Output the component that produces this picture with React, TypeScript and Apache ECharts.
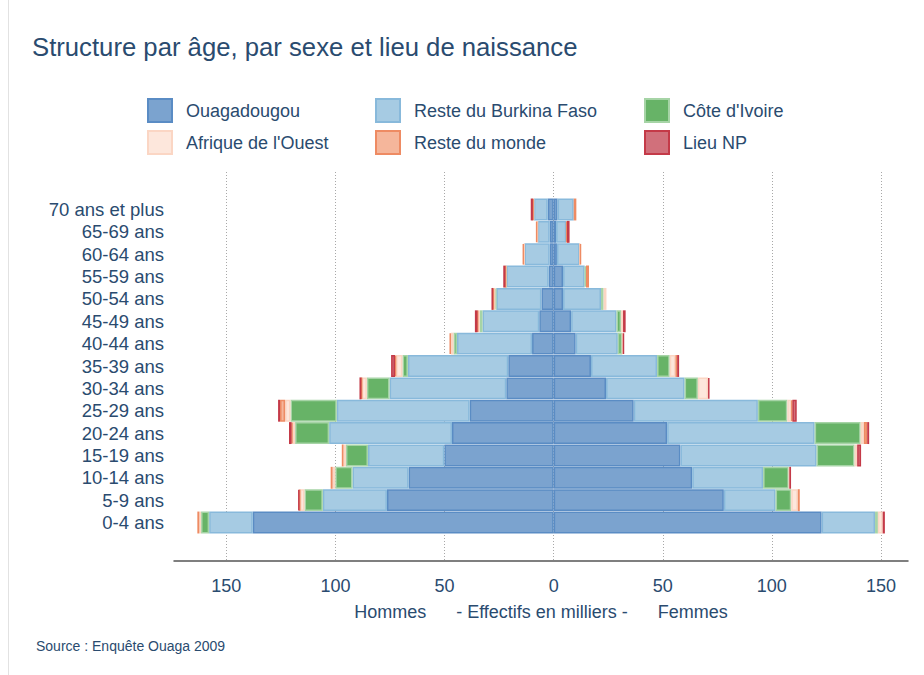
import React, { useEffect, useRef } from 'react';
import * as echarts from 'echarts';

// Age groups, bottom to top
const ageGroups = [
  '0-4 ans', '5-9 ans', '10-14 ans', '15-19 ans', '20-24 ans', '25-29 ans', '30-34 ans',
  '35-39 ans', '40-44 ans', '45-49 ans', '50-54 ans', '55-59 ans', '60-64 ans', '65-69 ans',
  '70 ans et plus',
];

const placeNames = [
  'Ouagadougou', 'Reste du Burkina Faso', "Côte d'Ivoire",
  "Afrique de l'Ouest", 'Reste du monde', 'Lieu NP',
];

// Hommes (thousands), bottom to top
const hommesOuaga = [137.9, 76.4, 66.5, 50.1, 46.6, 38.5, 21.7, 20.8, 9.9, 6.6, 5.6, 2.3, 1.8, 1.8, 2.7];
const hommesBurkina = [20.0, 29.4, 25.7, 35.0, 56.3, 60.9, 53.5, 46.0, 34.4, 26.0, 20.7, 19.4, 11.6, 5.5, 6.4];
const hommesCI = [3.7, 8.4, 7.9, 10.1, 15.6, 21.2, 10.4, 2.5, 1.6, 1.2, 0.4, 0.1, 0, 0, 0];
const hommesAO = [0.8, 2.0, 1.2, 1.1, 1.2, 2.5, 2.3, 2.9, 1.2, 0.9, 0.8, 0.2, 0.2, 0.2, 0.2];
const hommesMonde = [0.9, 0.3, 0.9, 0.8, 0.4, 2.3, 0.2, 0.5, 0.6, 0.2, 0.2, 0.1, 0.6, 0.6, 0.2];
const hommesNP = [0, 0.6, 0, 0, 1.2, 0.9, 0.9, 1.8, 0, 1.2, 0.8, 1.0, 0, 0, 1.0];

// Femmes (thousands), bottom to top
const femmesOuaga = [122.8, 78.0, 63.5, 58.1, 52.0, 36.7, 24.0, 17.1, 10.1, 8.0, 4.3, 4.3, 1.5, 1.1, 1.8];
const femmesBurkina = [24.5, 23.7, 32.5, 62.4, 67.6, 56.9, 36.0, 30.3, 19.3, 20.8, 17.4, 9.9, 10.4, 4.7, 7.4];
const femmesCI = [1.3, 7.2, 11.8, 17.4, 21.1, 13.5, 6.1, 5.8, 2.0, 2.1, 1.2, 0.6, 0, 0, 0];
const femmesAO = [2.2, 3.0, 0.2, 1.2, 1.5, 1.8, 4.7, 2.6, 0.3, 0.9, 1.3, 0, 0.1, 0, 0];
const femmesMonde = [0, 0.9, 0, 0, 1.5, 0.5, 0, 0.8, 0, 0, 0, 1.4, 0.6, 0.3, 1.2];
const femmesNP = [1.0, 0, 0.8, 1.8, 0.9, 2.0, 0.6, 0.9, 0.6, 1.2, 0, 0, 0, 1.2, 0];

const hommes = [hommesOuaga, hommesBurkina, hommesCI, hommesAO, hommesMonde, hommesNP];
const femmes = [femmesOuaga, femmesBurkina, femmesCI, femmesAO, femmesMonde, femmesNP];

const fills = ['#7ba3cf', '#a6cbe3', '#67b367', '#fde7dc', '#f5b69b', '#d1707b'];
const borders = ['#5a8cc4', '#88b9db', '#a6d4a6', '#fbd6c4', '#ee8b63', '#c43a48'];

const TEXT = '#2a4b6f';
const FONT = '"Liberation Sans", Arial, Helvetica, sans-serif';
const SP = '\u00a0\u00a0\u00a0\u00a0\u00a0\u00a0';

export default function App() {
  const ref = useRef<HTMLDivElement>(null);

  useEffect(() => {
    if (!ref.current) return;
    const chart = echarts.init(ref.current, null, { renderer: 'svg' });

    const series: any[] = [];
    placeNames.forEach((name, i) => {
      const style = { color: fills[i], borderColor: borders[i], borderWidth: 1.5 };
      series.push({
        name,
        type: 'bar',
        stack: 'pyramide',
        xAxisIndex: 1,
        yAxisIndex: 1,
        barCategoryGap: '2%',
        itemStyle: style,
        emphasis: { disabled: true },
        data: hommes[i].map((v) => (v === 0 ? null : -v)),
      });
      series.push({
        name,
        type: 'bar',
        stack: 'pyramide',
        xAxisIndex: 1,
        yAxisIndex: 1,
        barCategoryGap: '2%',
        itemStyle: style,
        emphasis: { disabled: true },
        data: femmes[i].map((v) => (v === 0 ? null : v)),
      });
    });

    const legendBase = {
      orient: 'vertical',
      top: 93,
      itemWidth: 24,
      itemHeight: 23,
      itemGap: 7,
      icon: 'rect',
      selectedMode: false,
      textStyle: { fontSize: 18, color: TEXT, fontFamily: FONT, padding: [0, 0, 0, 9] },
    };

    const option: any = {
      animation: false,
      backgroundColor: '#ffffff',
      textStyle: { fontFamily: FONT },
      title: {
        text: 'Structure par âge, par sexe et lieu de naissance',
        left: 27,
        top: 29,
        textStyle: { fontSize: 25.7, fontWeight: 'normal', color: TEXT, fontFamily: FONT },
      },
      legend: [
        { ...legendBase, left: 142, data: ['Ouagadougou', "Afrique de l'Ouest"] },
        { ...legendBase, left: 370, data: ['Reste du Burkina Faso', 'Reste du monde'] },
        { ...legendBase, left: 639, data: ["Côte d'Ivoire", 'Lieu NP'] },
      ],
      grid: [
        { left: 174, right: 16, top: 172, bottom: 114 },
        { left: 174, right: 16, top: 198.3, bottom: 141.3 },
      ],
      xAxis: [
        {
          gridIndex: 0,
          type: 'value',
          min: -174,
          max: 162.4,
          minInterval: 50,
          maxInterval: 50,
          axisLine: { show: true, lineStyle: { color: '#555555', width: 1.5 } },
          axisTick: { show: false },
          splitLine: {
            show: true,
            showMinLine: false,
            showMaxLine: false,
            lineStyle: { color: '#a8a8a8', width: 1, type: [1, 2] },
          },
          axisLabel: {
            fontSize: 18,
            color: TEXT,
            fontFamily: FONT,
            margin: 16,
            formatter: (v: number) => (Math.abs(v % 50) < 1e-6 ? String(Math.abs(v)) : ''),
          },
          name: 'Hommes' + SP + '- Effectifs en milliers -' + SP + 'Femmes',
          nameLocation: 'middle',
          nameGap: 42,
          nameTextStyle: { fontSize: 18, color: TEXT, fontFamily: FONT },
        },
        {
          gridIndex: 1,
          type: 'value',
          min: -174,
          max: 162.4,
          show: false,
          splitLine: { show: false },
        },
      ],
      yAxis: [
        { gridIndex: 0, type: 'value', min: 0, max: 1, show: false, splitLine: { show: false } },
        {
          gridIndex: 1,
          type: 'category',
          data: ageGroups,
          axisLine: { show: false, onZero: false },
          axisTick: { show: false },
          splitLine: { show: false },
          axisLabel: {
            interval: 0,
            fontSize: 18.5,
            color: TEXT,
            fontFamily: FONT,
            margin: 10,
            padding: [8, 0, 0, 0],
          },
        },
      ],
      graphic: [
        {
          type: 'line',
          shape: { x1: 8.5, y1: 0, x2: 8.5, y2: 675 },
          style: { stroke: '#e2e2e2', lineWidth: 1 },
          silent: true,
        },
        {
          type: 'text',
          left: 36,
          top: 639,
          style: { text: 'Source : Enquête Ouaga 2009', fontSize: 14, fill: TEXT, fontFamily: FONT },
          silent: true,
        },
      ],
      series,
    };

    chart.setOption(option);
    return () => chart.dispose();
  }, []);

  return (
    <div
      ref={ref}
      style={{ position: 'fixed', left: 0, top: 0, width: 924, height: 675, background: '#fff' }}
    />
  );
}
